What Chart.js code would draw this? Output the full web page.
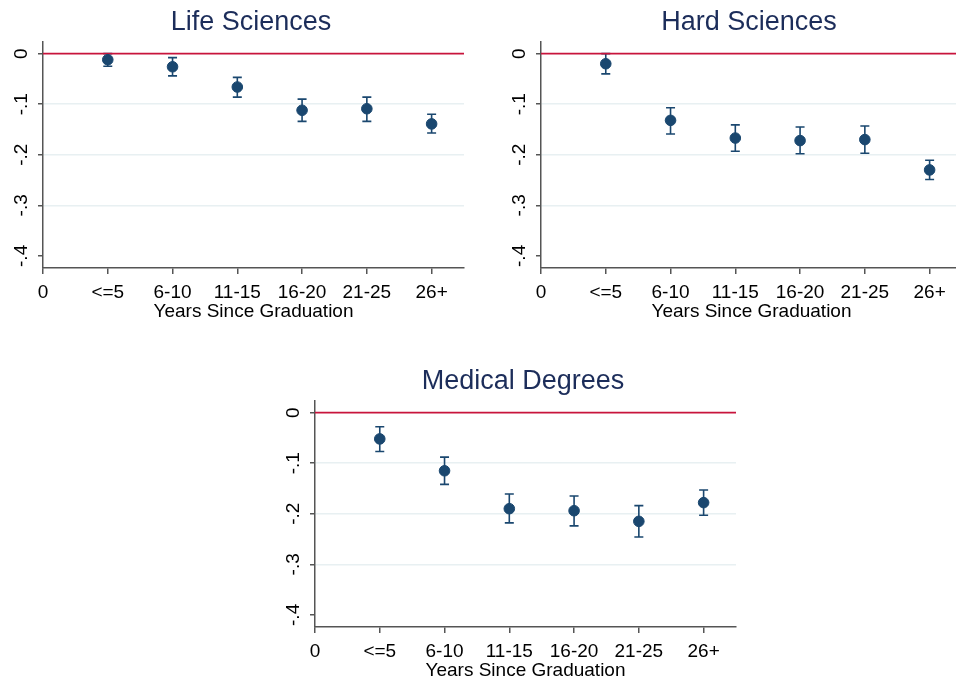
<!DOCTYPE html>
<html>
<head>
<meta charset="utf-8">
<script src="https://cdn.jsdelivr.net/npm/chart.js@4"></script>
<style>
  html, body { margin: 0; padding: 0; background: #fff; overflow: hidden; width: 956px; height: 682px; }
  canvas { position: absolute; }
</style>
</head>
<body>
<canvas id="chart-1" style="left:0px;top:0px;width:480px;height:330px"></canvas>
<canvas id="chart-2" style="left:498px;top:0px;width:480px;height:330px"></canvas>
<canvas id="chart-3" style="left:272px;top:359px;width:480px;height:330px"></canvas>
<script>
// categories on the x axis (position 0 is the axis origin label)
const categories = ["0", "<=5", "6-10", "11-15", "16-20", "21-25", "26+"];
const xPositions = [0, 1, 2, 3, 4, 5, 6];

const yTicks = [0, -0.1, -0.2, -0.3, -0.4];
const yTickLabels = ["0", "-.1", "-.2", "-.3", "-.4"];

// Life Sciences
const lifeEst = [-0.012, -0.026, -0.066, -0.112, -0.109, -0.139];
const lifeLo  = [-0.025, -0.044, -0.086, -0.134, -0.134, -0.157];
const lifeHi  = [0.000, -0.008, -0.047, -0.090, -0.086, -0.120];

// Hard Sciences
const hardEst = [-0.020, -0.132, -0.167, -0.172, -0.170, -0.230];
const hardLo  = [-0.040, -0.159, -0.193, -0.198, -0.197, -0.249];
const hardHi  = [0.000, -0.107, -0.141, -0.145, -0.143, -0.211];

// Medical Degrees
const medEst = [-0.052, -0.115, -0.190, -0.194, -0.215, -0.178];
const medLo  = [-0.077, -0.142, -0.218, -0.224, -0.246, -0.203];
const medHi  = [-0.028, -0.088, -0.161, -0.165, -0.184, -0.153];

const navy = "#1a476f";
const axisColor = "#555555";
const fontFamily = "'Liberation Sans', Arial, sans-serif";

// error bars with caps, drawn under the markers
const errorBars = {
  id: "errorBars",
  beforeDatasetsDraw(chart) {
    const ci = chart.options.plugins.errorBars;
    const xs = chart.scales.x, ys = chart.scales.y;
    const ctx = chart.ctx;
    ctx.save();
    ctx.strokeStyle = navy;
    ctx.lineWidth = 1.6;
    ci.lo.forEach((lo, i) => {
      const x = xs.getPixelForValue(i + 1);
      const y1 = ys.getPixelForValue(lo);
      const y2 = ys.getPixelForValue(ci.hi[i]);
      ctx.beginPath();
      ctx.moveTo(x, y1); ctx.lineTo(x, y2);
      ctx.moveTo(x - 4.5, y1); ctx.lineTo(x + 4.5, y1);
      ctx.moveTo(x - 4.5, y2); ctx.lineTo(x + 4.5, y2);
      ctx.stroke();
    });
    ctx.restore();
  }
};

// rotated y tick labels like the original
const rotatedYLabels = {
  id: "rotatedYLabels",
  afterDraw(chart) {
    const ys = chart.scales.y;
    const ctx = chart.ctx;
    ctx.save();
    ctx.fillStyle = "#000";
    ctx.font = "19px " + fontFamily;
    ctx.textAlign = "center";
    ctx.textBaseline = "middle";
    yTicks.forEach((v, i) => {
      ctx.save();
      ctx.translate(ys.left - 16, ys.getPixelForValue(v));
      ctx.rotate(-Math.PI / 2);
      ctx.fillText(yTickLabels[i], 0, 0);
      ctx.restore();
    });
    ctx.restore();
  }
};

function makePanel(id, title, est, lo, hi) {
  const ctx = document.getElementById(id).getContext("2d");
  return new Chart(ctx, {
    type: "scatter",
    data: {
      datasets: [
        {
          type: "line",
          data: [{ x: 0, y: 0 }, { x: 6.5, y: 0 }],
          borderColor: "#c8143c",
          borderWidth: 1.6,
          pointRadius: 0,
          order: 2,
        },
        {
          data: est.map((v, i) => ({ x: i + 1, y: v })),
          backgroundColor: navy,
          borderColor: navy,
          pointRadius: 5.3,
          order: 1,
        },
      ],
    },
    options: {
      responsive: false,
      animation: false,
      layout: { padding: { left: 38, right: 16, top: 0, bottom: 8.5 } },
      plugins: {
        legend: { display: false },
        tooltip: { enabled: false },
        title: {
          display: true,
          text: title,
          color: "#1c2d5a",
          font: { family: fontFamily, size: 27, weight: "normal", lineHeight: 1.2 },
          padding: { top: 6, bottom: 3.6 },
        },
        errorBars: { lo: lo, hi: hi },
      },
      scales: {
        x: {
          type: "linear",
          min: 0,
          max: 6.5,
          afterBuildTicks: (s) => { s.ticks = xPositions.map((v) => ({ value: v })); },
          ticks: {
            color: "#000",
            padding: 9.5,
            maxRotation: 0,
            autoSkip: false,
            font: { family: fontFamily, size: 19, lineHeight: 1.0 },
            callback: (v) => categories[v],
          },
          grid: { drawOnChartArea: false, tickLength: 6, color: axisColor, lineWidth: 1.5 },
          border: { color: axisColor, width: 1.5 },
          title: {
            display: true,
            text: "Years Since Graduation",
            color: "#000",
            font: { family: fontFamily, size: 19, lineHeight: 1.0 },
            padding: { top: -9.5, bottom: 0 },
          },
        },
        y: {
          min: -0.424,
          max: 0.023,
          afterBuildTicks: (s) => { s.ticks = yTicks.map((v) => ({ value: v })); },
          ticks: { display: false },
          grid: {
            tickLength: 5,
            lineWidth: 1.5,
            tickColor: axisColor,
            color: (c) => (c.tick && (c.tick.value === 0 || c.tick.value === -0.4)) ? "rgba(0,0,0,0)" : "#e8f0f2",
          },
          border: { color: axisColor, width: 1.5 },
        },
      },
    },
    plugins: [errorBars, rotatedYLabels],
  });
}

["chart-1", "chart-2", "chart-3"].forEach((id) => {
  const c = document.getElementById(id);
  c.width = 480; c.height = 330;
});

const chart1 = makePanel("chart-1", "Life Sciences", lifeEst, lifeLo, lifeHi);
const chart2 = makePanel("chart-2", "Hard Sciences", hardEst, hardLo, hardHi);
const chart3 = makePanel("chart-3", "Medical Degrees", medEst, medLo, medHi);
</script>
</body>
</html>
